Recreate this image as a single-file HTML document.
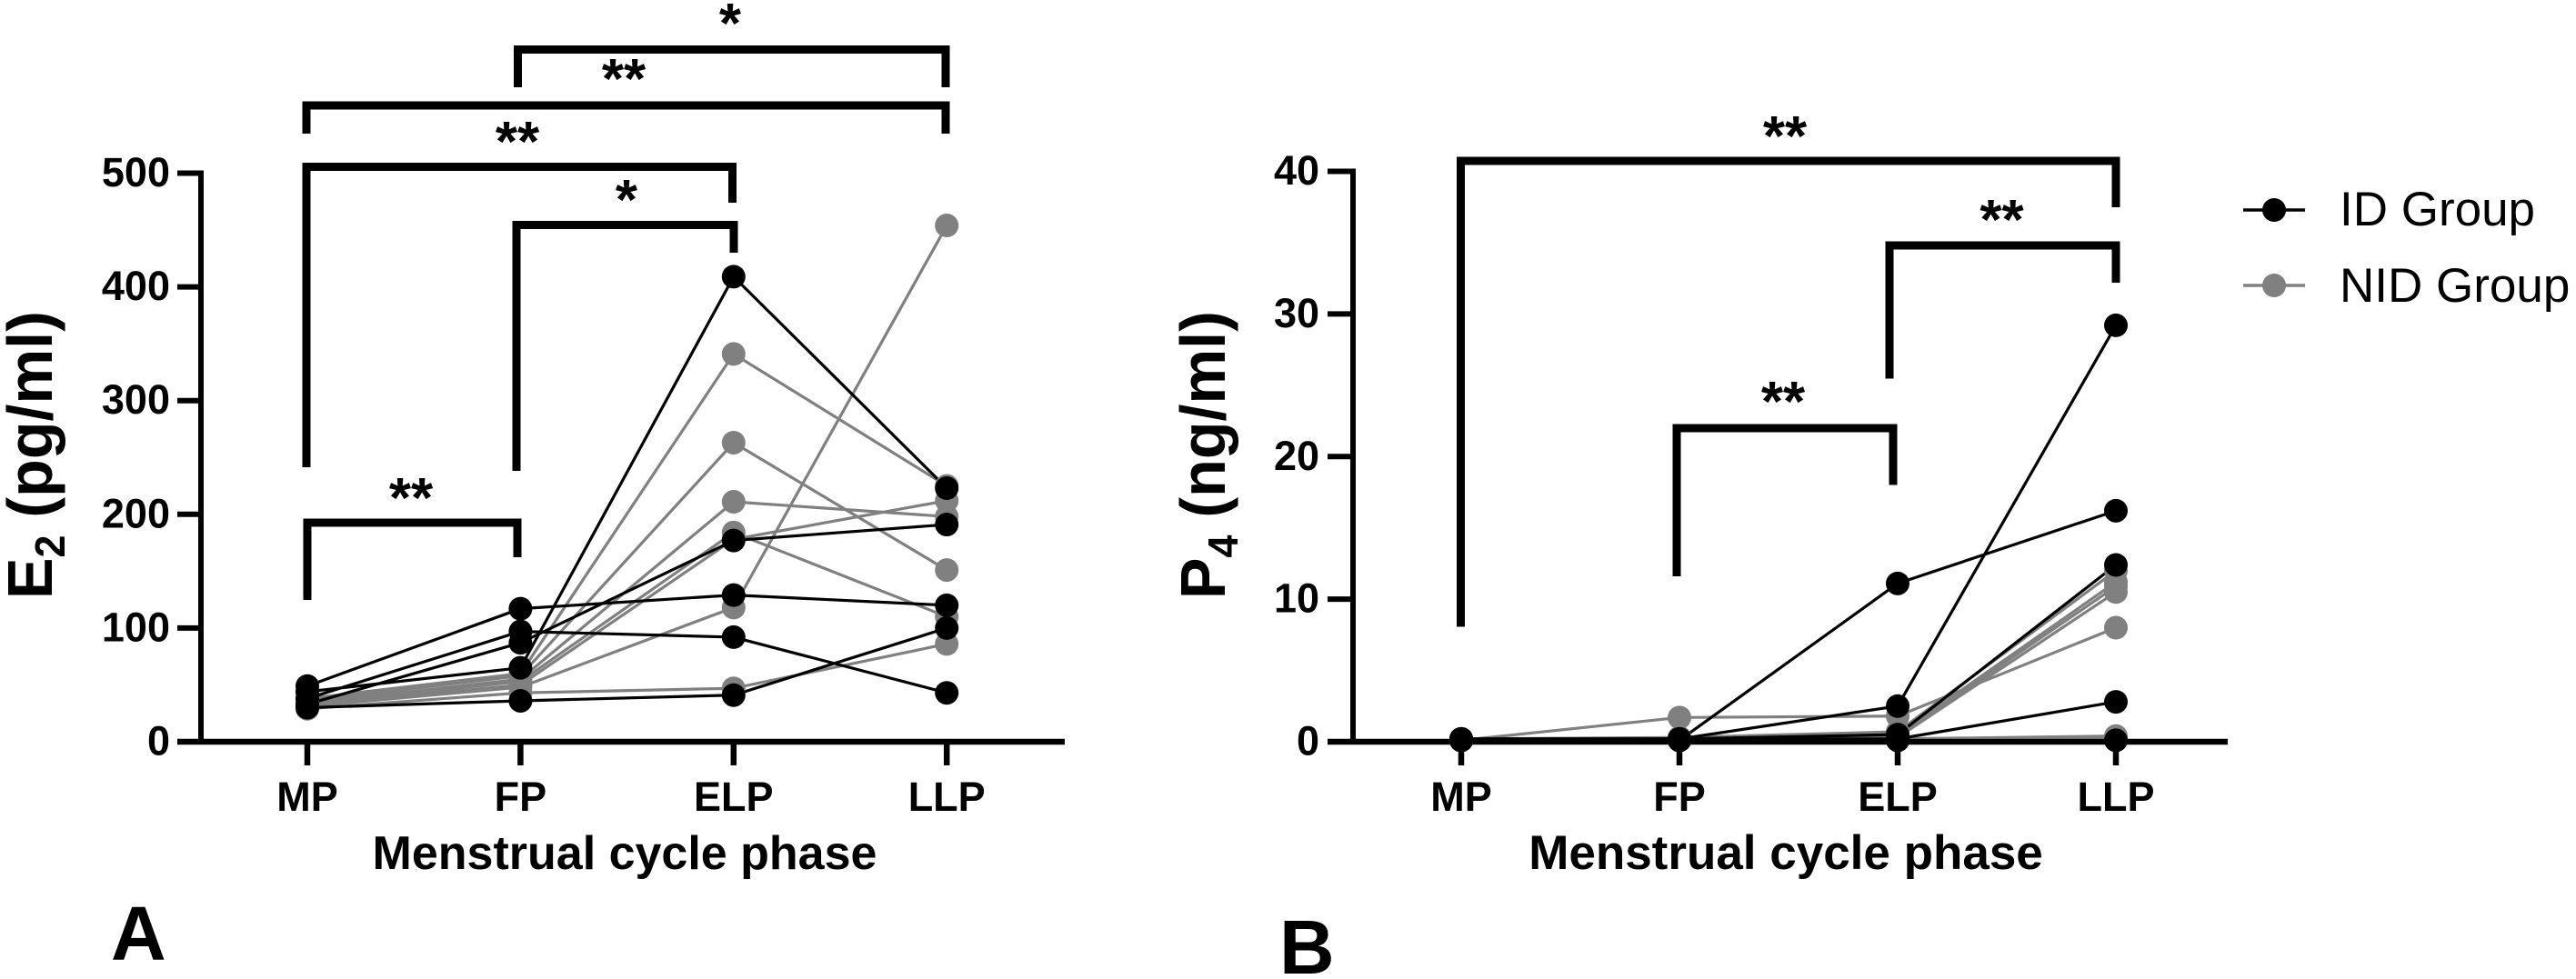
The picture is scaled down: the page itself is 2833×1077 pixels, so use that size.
<!DOCTYPE html>
<html lang="en">
<head>
<meta charset="utf-8">
<title>E2 and P4 across the menstrual cycle</title>
<style>
html,body{margin:0;padding:0;background:#fff;width:2833px;height:1077px;overflow:hidden}
svg{display:block}
text{font-family:"Liberation Sans",sans-serif;fill:#000}
.b{font-weight:700}
</style>
</head>
<body>
<svg id="figure" xmlns="http://www.w3.org/2000/svg" width="2833" height="1077" viewBox="0 0 2833 1077">
  <rect width="2833" height="1077" fill="#fff"/>
  <g id="panel-a"></g>
  <g id="panel-b"></g>

  <text class="b" font-size="70" transform="translate(57,659) rotate(-90) scale(0.975,1)">E<tspan font-size="46" dy="14">2</tspan><tspan dy="-14"> (pg/ml)</tspan></text>
  <text class="b" font-size="70" transform="translate(1347,659) rotate(-90) scale(0.975,1)">P<tspan font-size="46" dy="14">4</tspan><tspan dy="-14"> (ng/ml)</tspan></text>
  <text class="b" font-size="52" text-anchor="middle" x="687" y="956">Menstrual cycle phase</text>
  <text class="b" font-size="53" text-anchor="middle" x="1964" y="956">Menstrual cycle phase</text>
  <text class="b" font-size="84" x="122" y="1056">A</text>
  <text class="b" font-size="84" x="1407" y="1071">B</text>

  <g fill="none" stroke="#000" stroke-width="9">
    <path d="M569.5 96V54.5H1040V96"/>
    <path d="M337 147V116H1040V147"/>
    <path d="M337 514V183.5H805.5V223"/>
    <path d="M568 518V247.5H807V278"/>
    <path d="M338 660V575H569V613"/>
  </g>
  <g fill="none" stroke="#000" stroke-width="9">
    <path d="M1606.5 689.5V177H2327V228"/>
    <path d="M2078 416.500V270H2327V311"/>
    <path d="M1844 634V471H2082V533.500"/>
  </g>
  <g class="b" font-size="62" text-anchor="middle">
    <text x="803" y="47">*</text>
    <text x="686" y="108">**</text>
    <text x="569" y="177">**</text>
    <text x="689" y="241">*</text>
    <text x="452" y="569">**</text>
    <text x="1963" y="171">**</text>
    <text x="2201.500" y="263">**</text>
    <text x="1961" y="463">**</text>
  </g>

  <g>
    <g>
      <line x1="2467" x2="2535" y1="231" y2="231" stroke="#000" stroke-width="3.500"/>
      <circle cx="2501" cy="231" r="13" fill="#000"/>
      <text font-size="53" x="2573" y="248">ID Group</text>
    </g>
    <g>
      <line x1="2467" x2="2535" y1="314" y2="314" stroke="#808080" stroke-width="3.500"/>
      <circle cx="2501" cy="314" r="13" fill="#808080"/>
      <text font-size="53" x="2573" y="332">NID Group</text>
    </g>
  </g>
</svg>
<script>
const phases = ['MP', 'FP', 'ELP', 'LLP'];
const e2Ticks = [0, 100, 200, 300, 400, 500];
const p4Ticks = [0, 10, 20, 30, 40];

const e2IdGroup = [
  [49, 117, 129, 120],
  [38, 97, 92, 43],
  [33, 87, 177, 191],
  [44, 65, 409, 223],
  [30, 36, 41, 100]
];
const e2NidGroup = [
  [38, 60, 341, 225],
  [36, 58, 263, 151],
  [34, 55, 211, 198],
  [33, 53, 184, 110],
  [32, 50, 178, 212],
  [31, 48, 118, 454],
  [29, 43, 47, 86]
];
const p4IdGroup = [
  [0.2, 0.1, 11.1, 16.2],
  [0.2, 0.2, 2.5, 29.2],
  [0.2, 0.2, 0.5, 12.4],
  [0.1, 0.2, 0.2, 2.8],
  [0.1, 0.1, 0.1, 0.1]
];
const p4NidGroup = [
  [0.1, 1.7, 1.8, 8.0],
  [0.2, 0.3, 0.7, 12.0],
  [0.2, 0.2, 0.5, 11.2],
  [0.1, 0.2, 0.4, 10.9],
  [0.1, 0.1, 0.3, 10.5],
  [0.1, 0.1, 0.2, 0.4],
  [0.1, 0.1, 0.1, 0.3]
];

const NS = 'http://www.w3.org/2000/svg';
const BLACK = '#000';
const GRAY = '#808080';

function add(parent, tag, name) {
  const el = document.createElementNS(NS, tag);
  
  
  parent.appendChild(el);
  return el;
}
function line(parent, name, x1, y1, x2, y2, color, width, cap) {
  const el = add(parent, 'line', name);
  el.setAttribute('x1', x1);
  el.setAttribute('y1', y1);
  el.setAttribute('x2', x2);
  el.setAttribute('y2', y2);
  el.setAttribute('stroke', color);
  el.setAttribute('stroke-width', width);
  if (cap) el.setAttribute('stroke-linecap', cap);
  return el;
}
function label(parent, name, str, x, y, anchor) {
  const el = add(parent, 'text', name);
  el.setAttribute('class', 'b');
  el.setAttribute('font-size', '45');
  el.setAttribute('text-anchor', anchor);
  el.setAttribute('x', x);
  el.setAttribute('y', y);
  el.textContent = str;
  return el;
}

function drawPanel(root, cfg) {
  const xScale = i => cfg.x0 + i * cfg.dx;
  const yScale = v => cfg.yZero - (v / cfg.yMax) * (cfg.yZero - cfg.yTop);

  const axes = add(root, 'g', cfg.id + '-axes');
  line(axes, cfg.id + '-y-axis', cfg.axisX, cfg.yTop - 3, cfg.axisX, cfg.yZero, BLACK, 6);
  line(axes, cfg.id + '-x-axis', cfg.tickLeft, cfg.yZero, cfg.axisRight, cfg.yZero, BLACK, 6.500);
  cfg.ticks.forEach(t => {
    line(axes, cfg.id + '-y-tick-' + t, cfg.tickLeft, yScale(t), cfg.axisX, yScale(t), BLACK, 6);
    label(axes, cfg.id + '-y-tick-label-' + t, String(t), cfg.labelRight, yScale(t) + 14.500, 'end');
  });
  cfg.categories.forEach((c, i) => {
    line(axes, cfg.id + '-x-tick-' + c, xScale(i), cfg.yZero, xScale(i), cfg.yZero + 26, BLACK, 6.500);
    label(axes, cfg.id + '-x-tick-label-' + c, c, xScale(i), 892, 'middle');
  });

  const drawLines = (rows, color, group) => {
    const g = add(root, 'g', cfg.id + '-' + group + '-lines');
    rows.forEach((row, r) => {
      const p = add(g, 'polyline', cfg.id + '-' + group + '-subject-' + (r + 1));
      p.setAttribute('points', row.map((v, i) => xScale(i) + ',' + yScale(v)).join(' '));
      p.setAttribute('fill', 'none');
      p.setAttribute('stroke', color);
      p.setAttribute('stroke-width', '3.200');
    });
  };
  const drawPoints = (rows, color, group) => {
    const g = add(root, 'g', cfg.id + '-' + group + '-points');
    rows.forEach((row, r) => {
      row.forEach((v, i) => {
        const c = add(g, 'circle', cfg.id + '-' + group + '-point-' + (r + 1) + '-' + cfg.categories[i]);
        c.setAttribute('cx', xScale(i));
        c.setAttribute('cy', yScale(v));
        c.setAttribute('r', '13');
        c.setAttribute('fill', color);
      });
    });
  };
  drawLines(cfg.nid_group, GRAY, 'nid');
  drawLines(cfg.id_group, BLACK, 'id');
  drawPoints(cfg.nid_group, GRAY, 'nid');
  drawPoints(cfg.id_group, BLACK, 'id');
}

drawPanel(document.getElementById('panel-a'), {
  id: 'e2', categories: phases, ticks: e2Ticks, id_group: e2IdGroup, nid_group: e2NidGroup,
  x0: 338, dx: 234.4, yZero: 816, yTop: 190.5, yMax: 500,
  axisX: 221, tickLeft: 195, axisRight: 1171, labelRight: 187
});
drawPanel(document.getElementById('panel-b'), {
  id: 'p4', categories: phases, ticks: p4Ticks, id_group: p4IdGroup, nid_group: p4NidGroup,
  x0: 1607, dx: 240, yZero: 816, yTop: 188.5, yMax: 40,
  axisX: 1488, tickLeft: 1460, axisRight: 2450, labelRight: 1451
});
</script>
</body>
</html>
